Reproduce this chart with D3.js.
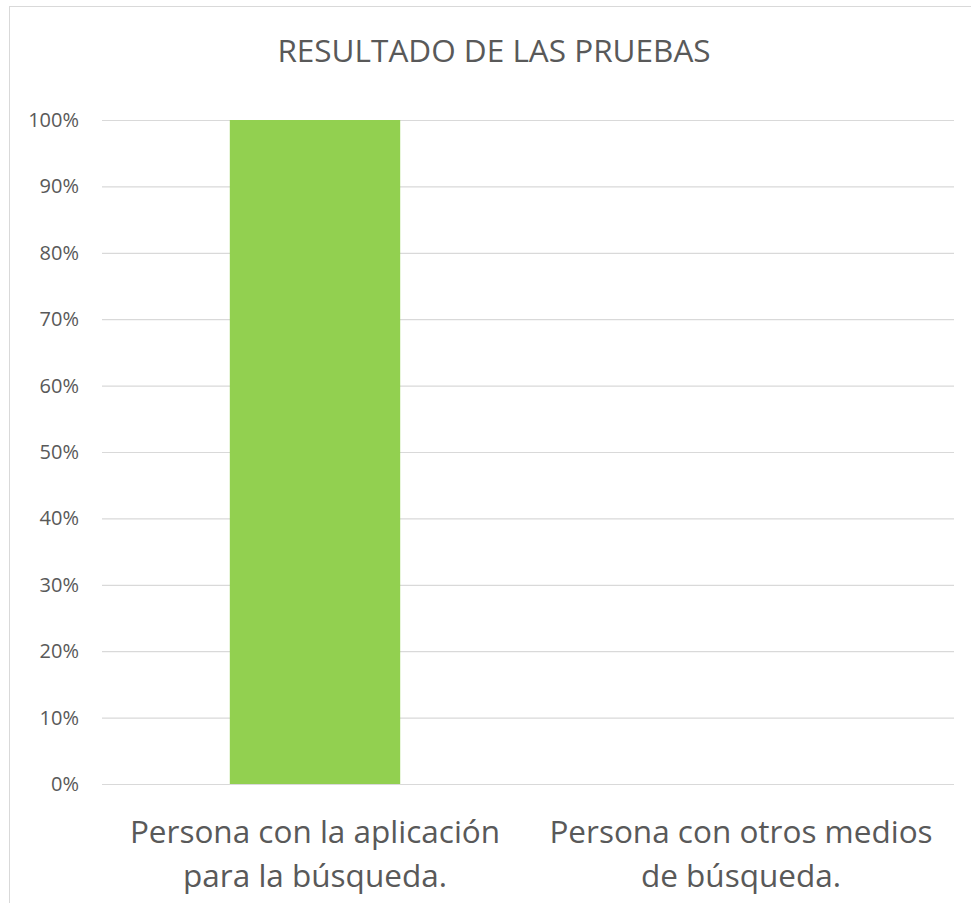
<!DOCTYPE html>
<html>
<head>
<meta charset="utf-8">
<script src="https://cdn.jsdelivr.net/npm/d3@7"></script>
<style>
  body { margin: 0; background: #fff; }
  svg { display: block; }
  text { font-family: "Open Sans", "Noto Sans", sans-serif; fill: #595959; }
</style>
</head>
<body>
<svg id="chart" width="971" height="903"></svg>
<script>
const title = "RESULTADO DE LAS PRUEBAS";
const categories = [
  ["Persona con la aplicación", "para la búsqueda."],
  ["Persona con otros medios", "de búsqueda."]
];
const values = [1.0, 0.0];
const yTicks = [0, 0.1, 0.2, 0.3, 0.4, 0.5, 0.6, 0.7, 0.8, 0.9, 1.0];

const svg = d3.select("#chart");
const margin = { left: 102, right: 17, top: 120, bottom: 119 };
const width = 971, height = 903;

// chart area border (only left and top visible)
svg.append("rect")
  .attr("x", 9.5).attr("y", 6.5)
  .attr("width", 1000).attr("height", 1000)
  .attr("fill", "none").attr("stroke", "#d9d9d9");

svg.append("text")
  .attr("x", 494).attr("y", 62)
  .attr("text-anchor", "middle")
  .style("font-size", "31.5px")
  .text(title);

const x = d3.scaleBand()
  .domain(d3.range(categories.length))
  .range([margin.left, width - margin.right])
  .paddingInner(0.6).paddingOuter(0.3);

const y = d3.scaleLinear()
  .domain([0, 1])
  .range([height - margin.bottom, margin.top]);

// gridlines
const yAxis = d3.axisLeft(y)
  .tickValues(yTicks)
  .tickFormat(d3.format(".0%"))
  .tickSize(-(width - margin.left - margin.right))
  .tickPadding(23);

const gy = svg.append("g")
  .attr("transform", `translate(${margin.left},0)`)
  .call(yAxis);
gy.select(".domain").remove();
gy.selectAll(".tick line").attr("stroke", "#d9d9d9").attr("stroke-width", 1.2);
gy.selectAll(".tick text")
  .attr("fill", "#595959")
  .style("font-size", "20px")
  .style("font-family", "'Open Sans', 'Noto Sans', sans-serif");

// bars
svg.append("g").selectAll("rect")
  .data(values)
  .join("rect")
  .attr("x", (d, i) => x(i))
  .attr("width", x.bandwidth())
  .attr("y", d => y(d))
  .attr("height", d => y(0) - y(d))
  .attr("fill", "#92d050");

// category labels
const cat = svg.append("g").selectAll("text")
  .data(categories)
  .join("text")
  .attr("text-anchor", "middle")
  .style("font-size", "31.5px");
cat.selectAll("tspan")
  .data((d, i) => d.map(line => ({ line, i })))
  .join("tspan")
  .attr("x", d => x(d.i) + x.bandwidth() / 2)
  .attr("y", (d, j) => 843 + j * 44)
  .text(d => d.line);
</script>
</body>
</html>
